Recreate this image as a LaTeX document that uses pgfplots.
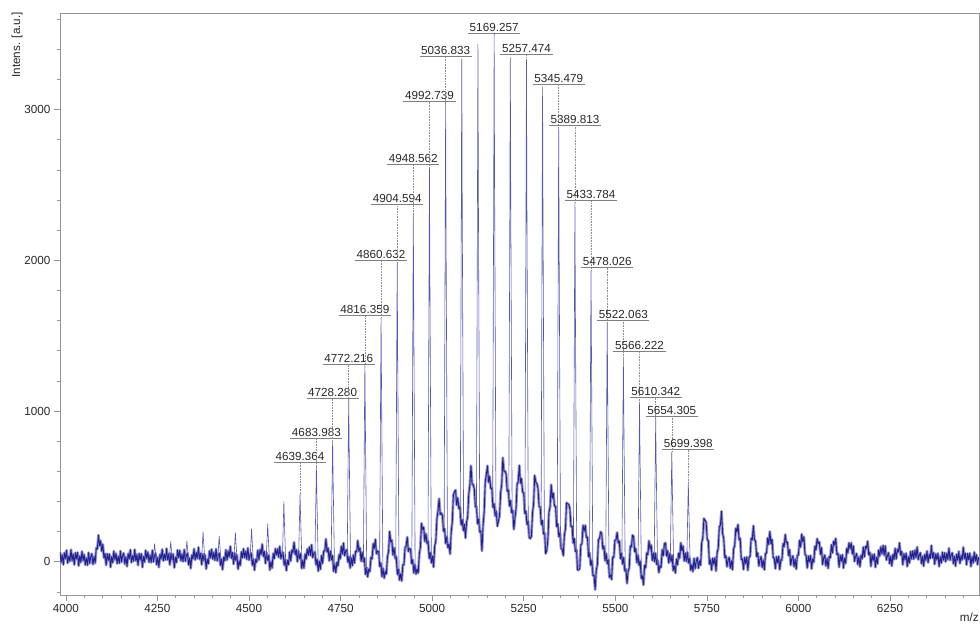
\documentclass[border=0pt]{standalone}
\usepackage{fontspec}
\setmainfont{Liberation Sans}
\usepackage{pgfplots}
\pgfplotsset{compat=1.18}

\definecolor{trace}{RGB}{34,34,140}
\definecolor{halo}{RGB}{150,150,212}
\definecolor{spike}{RGB}{88,88,180}
\definecolor{spine}{RGB}{150,150,150}
\definecolor{labtext}{RGB}{40,40,40}
\newcommand{\chartfont}{\fontsize{11.7bp}{13bp}\selectfont}

% peak annotation: #1 m/z, #2 peak top, #3 height of the underline, #4 text
\newcommand{\peaklabel}[4]{%
  \draw[leader] (axis cs:#1,#2) -- (axis cs:#1,#3);
  \node[pklab] (pk) at (axis cs:#1,#3) {#4};
  \draw[uline] ([xshift=-1bp]pk.south west) -- ([xshift=1bp]pk.south east);
}

\begin{document}
\begin{tikzpicture}[
  leader/.style={draw=black!45, densely dotted, line width=0.6bp},
  uline/.style={draw=black!50, line width=0.8bp},
  pklab/.style={anchor=south, inner xsep=0.5bp, inner ysep=1.6bp, font=\chartfont, text=labtext}
]
\begin{axis}[
  width=919bp, height=582bp, scale only axis,
  xmin=3984, xmax=6493, ymin=-221, ymax=3641,
  xtick={4000,4250,...,6250}, ytick={0,1000,2000,3000},
  minor xtick={4050,4100,...,6450}, minor ytick={-200,0,...,3600},
  tick align=outside, tick pos=left,
  major tick length=6bp, minor tick length=3bp,
  every tick/.style={spine, line width=0.6bp},
  every minor tick/.style={spine, line width=0.6bp},
  axis line style={spine, line width=0.7bp},
  tick label style={font=\chartfont, text=labtext},
  /pgf/number format/assume math mode=true,
  /pgf/number format/1000 sep={},
]

% full trace (baseline, adduct ripples and broad peaks), with a pale noise halo
\addplot[trace, line width=0.9bp, line join=round,
         preaction={draw=halo, line width=2.8bp, line join=round}] coordinates {
(3984,64)(3987,-5)(3990,46)(3993,-19)(3996,59)(3999,20)(4002,76)(4005,-9)(4008,36)(4011,3)
(4014,80)(4017,7)(4020,50)(4023,-20)(4026,59)(4029,18)(4032,61)(4035,-27)(4038,38)(4041,-4)
(4044,68)(4047,8)(4050,47)(4053,-21)(4056,24)(4059,-23)(4062,60)(4065,-11)(4068,33)(4071,53)
(4074,-18)(4077,33)(4080,-9)(4083,91)(4086,85)(4089,176)(4092,106)(4095,139)(4098,69)(4101,115)
(4104,25)(4107,53)(4110,-23)(4113,53)(4116,10)(4119,51)(4122,-36)(4125,33)(4128,-6)(4131,70)
(4134,14)(4137,54)(4140,-12)(4143,35)(4146,-10)(4149,71)(4152,-2)(4155,40)(4158,57)(4161,-16)
(4164,31)(4167,-31)(4170,53)(4173,19)(4176,79)(4179,-5)(4182,39)(4185,4)(4188,80)(4191,6)
(4194,47)(4197,-24)(4200,54)(4203,12)(4206,53)(4209,-37)(4212,34)(4215,-2)(4218,75)(4221,22)
(4224,64)(4227,-4)(4230,42)(4233,-5)(4236,75)(4239,-1)(4242,39)(4245,55)(4248,-20)(4251,27)
(4254,-37)(4257,49)(4260,18)(4263,82)(4266,6)(4269,49)(4272,12)(4275,87)(4278,12)(4281,52)
(4284,-21)(4287,55)(4290,12)(4293,51)(4296,-40)(4299,28)(4302,-4)(4305,77)(4308,27)(4311,75)
(4314,6)(4317,50)(4320,1)(4323,80)(4326,3)(4329,41)(4332,56)(4335,-21)(4338,24)(4341,-44)
(4344,45)(4347,18)(4350,85)(4353,12)(4356,60)(4359,22)(4362,95)(4365,17)(4368,54)(4371,-20)
(4374,53)(4377,8)(4380,45)(4383,-48)(4386,15)(4389,-14)(4392,71)(4395,26)(4398,83)(4401,17)
(4404,60)(4407,9)(4410,85)(4413,6)(4416,43)(4419,55)(4422,-24)(4425,18)(4428,-52)(4431,30)
(4434,7)(4437,79)(4440,11)(4443,71)(4446,31)(4449,102)(4452,23)(4455,60)(4458,-16)(4461,56)
(4464,9)(4467,45)(4470,-50)(4473,5)(4476,-25)(4479,65)(4482,25)(4485,85)(4488,28)(4491,69)
(4494,16)(4497,91)(4500,11)(4503,46)(4506,57)(4509,-24)(4512,17)(4515,-56)(4518,14)(4521,-3)
(4524,75)(4527,12)(4530,80)(4533,48)(4536,116)(4539,35)(4542,68)(4545,-11)(4548,59)(4551,9)
(4554,42)(4557,-55)(4560,0)(4563,-42)(4566,54)(4569,20)(4572,86)(4575,45)(4578,85)(4581,30)
(4584,102)(4587,20)(4590,52)(4593,61)(4596,-22)(4599,16)(4602,-59)(4605,8)(4608,-19)(4611,64)
(4614,5)(4617,78)(4620,61)(4623,129)(4626,47)(4629,80)(4632,1)(4635,70)(4638,20)(4641,53)
(4644,-45)(4647,9)(4650,-43)(4653,50)(4656,17)(4659,84)(4662,44)(4665,98)(4668,41)(4671,112)
(4674,27)(4677,57)(4680,63)(4683,-21)(4686,15)(4689,-63)(4692,2)(4695,-50)(4698,41)(4701,-10)
(4704,71)(4707,72)(4710,151)(4713,64)(4716,91)(4719,6)(4722,69)(4725,13)(4728,40)(4731,-64)
(4734,-15)(4737,-73)(4740,-4)(4743,-28)(4746,48)(4749,18)(4752,102)(4755,51)(4758,123)(4761,40)
(4764,71)(4767,79)(4770,-4)(4773,34)(4776,-42)(4779,25)(4782,-26)(4785,45)(4788,-9)(4791,68)
(4794,66)(4797,140)(4800,69)(4803,92)(4806,3)(4809,62)(4812,1)(4815,24)(4818,-84)(4821,-39)
(4824,-101)(4827,-49)(4830,-65)(4833,30)(4836,18)(4839,120)(4842,88)(4845,148)(4848,52)(4851,70)
(4854,65)(4857,-32)(4860,-8)(4863,-99)(4866,-45)(4869,-109)(4872,-65)(4875,-82)(4878,32)(4881,67)
(4884,200)(4887,131)(4890,143)(4893,44)(4896,92)(4899,22)(4902,34)(4905,-84)(4908,-50)(4911,-122)
(4914,-81)(4917,-128)(4920,-20)(4923,-21)(4926,94)(4929,103)(4932,163)(4935,68)(4938,87)(4941,83)
(4944,-12)(4947,13)(4950,-75)(4953,-20)(4956,-82)(4959,-49)(4962,-75)(4965,51)(4968,97)(4971,255)
(4974,213)(4977,229)(4980,134)(4983,186)(4986,120)(4989,136)(4992,22)(4995,60)(4998,-8)(5001,37)
(5004,-36)(5007,104)(5010,137)(5013,284)(5016,338)(5019,418)(5022,313)(5025,323)(5028,309)(5031,203)
(5034,219)(5037,121)(5040,165)(5043,93)(5046,116)(5049,51)(5052,197)(5055,265)(5058,443)(5061,463)
(5064,475)(5067,375)(5070,423)(5073,352)(5076,364)(5079,245)(5082,279)(5085,207)(5088,248)(5091,158)
(5094,262)(5097,298)(5100,449)(5103,507)(5106,637)(5109,517)(5112,512)(5115,484)(5118,364)(5121,365)
(5124,252)(5127,282)(5130,196)(5133,204)(5136,71)(5139,239)(5142,328)(5145,529)(5148,579)(5151,636)
(5154,527)(5157,566)(5160,486)(5163,489)(5166,360)(5169,385)(5172,303)(5175,335)(5178,235)(5181,270)
(5184,307)(5187,457)(5190,514)(5193,690)(5196,600)(5199,602)(5202,580)(5205,467)(5208,475)(5211,369)
(5214,406)(5217,326)(5220,341)(5223,215)(5226,290)(5229,347)(5232,515)(5235,533)(5238,638)(5241,521)
(5244,551)(5247,462)(5250,457)(5253,320)(5256,336)(5259,246)(5262,269)(5265,161)(5268,154)(5271,169)
(5274,323)(5277,384)(5280,572)(5283,527)(5286,519)(5289,487)(5292,365)(5295,363)(5298,247)(5301,274)
(5304,184)(5307,190)(5310,54)(5313,75)(5316,147)(5319,330)(5322,363)(5325,511)(5328,421)(5331,455)
(5334,369)(5337,367)(5340,233)(5343,253)(5346,165)(5349,192)(5352,87)(5355,84)(5358,40)(5361,177)
(5364,220)(5367,391)(5370,384)(5373,380)(5376,352)(5379,233)(5382,235)(5385,123)(5388,154)(5391,68)
(5394,77)(5397,-55)(5400,-55)(5403,-43)(5406,113)(5409,119)(5412,241)(5415,203)(5418,241)(5421,161)
(5424,163)(5427,34)(5430,59)(5433,-24)(5436,7)(5439,-92)(5442,-91)(5445,-185)(5448,-58)(5451,-20)
(5454,145)(5457,155)(5460,198)(5463,186)(5466,84)(5469,103)(5472,7)(5475,55)(5478,-14)(5481,12)
(5484,-104)(5487,-88)(5490,-118)(5493,31)(5496,29)(5499,143)(5502,144)(5505,194)(5508,124)(5511,138)
(5514,20)(5517,56)(5520,-16)(5523,27)(5526,-62)(5529,-49)(5532,-144)(5535,-64)(5538,-43)(5541,104)
(5544,97)(5547,176)(5550,167)(5553,66)(5556,87)(5559,-7)(5562,43)(5565,-25)(5568,3)(5571,-111)
(5574,-93)(5577,-154)(5580,-25)(5583,-40)(5586,59)(5589,46)(5592,139)(5595,83)(5598,111)(5601,8)
(5604,57)(5607,0)(5610,56)(5613,-18)(5616,8)(5619,-72)(5622,-27)(5625,-38)(5628,79)(5631,40)
(5634,117)(5637,125)(5640,38)(5643,72)(5646,-8)(5649,55)(5652,1)(5655,42)(5658,-58)(5661,-27)
(5664,-75)(5667,17)(5670,-20)(5673,57)(5676,23)(5679,125)(5682,73)(5685,104)(5688,4)(5691,57)
(5694,2)(5697,62)(5700,-9)(5703,21)(5706,-57)(5709,-20)(5712,-66)(5715,22)(5718,-45)(5721,3)
(5724,27)(5727,-43)(5730,6)(5733,-23)(5736,127)(5739,159)(5742,287)(5745,274)(5748,262)(5751,145)
(5754,140)(5757,-16)(5760,13)(5763,-56)(5766,23)(5769,-17)(5772,26)(5775,-62)(5778,60)(5781,88)
(5784,231)(5787,243)(5790,335)(5793,187)(5796,154)(5799,27)(5802,39)(5805,-33)(5808,10)(5811,29)
(5814,-43)(5817,6)(5820,-53)(5823,85)(5826,106)(5829,222)(5832,197)(5835,247)(5838,145)(5841,155)
(5844,14)(5847,18)(5850,-51)(5853,28)(5856,-12)(5859,31)(5862,-57)(5865,28)(5868,35)(5871,156)
(5874,146)(5877,238)(5880,144)(5883,136)(5886,34)(5889,59)(5892,-28)(5895,15)(5898,34)(5901,-38)
(5904,11)(5907,-54)(5910,54)(5913,58)(5916,157)(5919,115)(5922,200)(5925,119)(5928,148)(5931,27)
(5934,23)(5937,-46)(5940,33)(5943,-7)(5946,36)(5949,-52)(5952,13)(5955,10)(5958,120)(5961,100)
(5964,180)(5967,126)(5970,130)(5973,41)(5976,79)(5979,-23)(5982,20)(5985,39)(5988,-33)(5991,16)
(5994,-49)(5997,43)(6000,44)(6003,141)(6006,97)(6009,183)(6012,133)(6015,165)(6018,47)(6021,43)
(6024,-41)(6027,38)(6030,-2)(6033,41)(6036,-47)(6039,18)(6042,-2)(6045,103)(6048,78)(6051,153)
(6054,121)(6057,131)(6060,49)(6063,93)(6066,-18)(6069,25)(6072,44)(6075,-28)(6078,21)(6081,-44)
(6084,34)(6087,26)(6090,112)(6093,58)(6096,135)(6099,111)(6102,154)(6105,48)(6108,56)(6111,-36)
(6114,43)(6117,3)(6120,46)(6123,-42)(6126,23)(6129,-10)(6132,89)(6135,57)(6138,125)(6141,87)
(6144,125)(6147,51)(6150,104)(6153,2)(6156,35)(6159,54)(6162,-18)(6165,31)(6168,-34)(6171,44)
(6174,19)(6177,97)(6180,33)(6183,101)(6186,89)(6189,135)(6192,45)(6195,63)(6198,-31)(6201,48)
(6204,8)(6207,51)(6210,-37)(6213,28)(6216,-14)(6219,77)(6222,37)(6225,99)(6228,53)(6231,108)
(6234,43)(6237,105)(6240,11)(6243,40)(6246,59)(6249,-13)(6252,36)(6255,-29)(6258,49)(6261,15)
(6264,88)(6267,19)(6270,81)(6273,64)(6276,125)(6279,44)(6282,68)(6285,-20)(6288,53)(6291,13)
(6294,56)(6297,-32)(6300,33)(6303,-9)(6306,67)(6309,18)(6312,71)(6315,17)(6318,76)(6321,28)
(6324,98)(6327,14)(6330,44)(6333,59)(6336,-13)(6339,36)(6342,-29)(6345,49)(6348,10)(6351,71)
(6354,-6)(6357,47)(6360,22)(6363,107)(6366,26)(6369,60)(6372,-17)(6375,53)(6378,13)(6381,56)
(6384,-32)(6387,33)(6390,-9)(6393,63)(6396,10)(6399,59)(6402,0)(6405,56)(6408,14)(6411,90)
(6414,10)(6417,45)(6420,59)(6423,-13)(6426,36)(6429,-29)(6432,49)(6435,10)(6438,68)(6441,-12)
(6444,40)(6447,12)(6450,95)(6453,21)(6456,56)(6459,-20)(6462,54)(6465,13)(6468,56)(6471,-32)
(6474,33)(6477,-9)(6480,63)(6483,4)(6486,46)(6489,-19)(6492,30)
};

% narrow main charge-state peaks
\addplot[spike, line width=0.6bp, unbounded coords=jump] coordinates {
(4238.2,24)(4241,86)(4242.2,120)(4243.4,86)(4247.2,16)(4247.2,nan)
(4282.3,27)(4285.1,97)(4286.3,135)(4287.5,97)(4291.3,17)(4291.3,nan)
(4326.4,27)(4329.2,101)(4330.4,140)(4331.6,101)(4335.4,14)(4335.4,nan)
(4370.6,26)(4373.4,144)(4374.6,200)(4375.8,144)(4379.6,10)(4379.6,nan)
(4414.7,26)(4417.5,124)(4418.7,172)(4419.9,124)(4423.7,7)(4423.7,nan)
(4458.8,26)(4461.6,140)(4462.8,195)(4464,140)(4467.8,4)(4467.8,nan)
(4503,26)(4505.8,158)(4507,219)(4508.2,158)(4512,1)(4512,nan)
(4547.1,28)(4549.9,181)(4551.1,252)(4552.3,181)(4556.1,-1)(4556.1,nan)
(4591.2,28)(4594,288)(4595.2,400)(4596.4,288)(4600.2,-4)(4600.2,nan)
(4635.4,35)(4638.2,323)(4639.364,449)(4640.6,323)(4644.4,5)(4644.4,nan)
(4680,25)(4682.8,454)(4683.983,630)(4685.2,454)(4689,-14)(4689,nan)
(4724.3,24)(4727.1,578)(4728.28,803)(4729.5,578)(4733.3,-24)(4733.3,nan)
(4768.2,35)(4771,778)(4772.216,1080)(4773.4,778)(4777.2,3)(4777.2,nan)
(4812.4,6)(4815.2,948)(4816.359,1316)(4817.6,948)(4821.4,-55)(4821.4,nan)
(4856.6,2)(4859.4,1167)(4860.632,1621)(4861.8,1167)(4865.6,-72)(4865.6,nan)
(4900.6,11)(4903.4,1422)(4904.594,1975)(4905.8,1422)(4909.6,-80)(4909.6,nan)
(4944.6,15)(4947.4,1656)(4948.562,2300)(4949.8,1656)(4953.6,-54)(4953.6,nan)
(4988.7,102)(4991.5,1876)(4992.739,2606)(4993.9,1876)(4997.7,22)(4997.7,nan)
(5032.8,216)(5035.6,2187)(5036.833,3037)(5038,2187)(5041.8,116)(5041.8,nan)
(5076.9,319)(5079.7,2402)(5080.9,3336)(5082.1,2402)(5085.9,226)(5085.9,nan)
(5121,348)(5123.8,2473)(5125,3435)(5126.2,2473)(5130,204)(5130,nan)
(5165.3,422)(5168.1,2516)(5169.257,3495)(5170.5,2516)(5174.3,300)(5174.3,nan)
(5209.4,439)(5212.2,2409)(5213.4,3346)(5214.6,2409)(5218.4,316)(5218.4,nan)
(5253.5,362)(5256.3,2401)(5257.474,3335)(5258.7,2401)(5262.5,216)(5262.5,nan)
(5297.5,302)(5300.3,2269)(5301.5,3152)(5302.7,2269)(5306.5,150)(5306.5,nan)
(5341.5,261)(5344.3,2075)(5345.479,2882)(5346.7,2075)(5350.5,124)(5350.5,nan)
(5385.8,160)(5388.6,1716)(5389.813,2384)(5391,1716)(5394.8,18)(5394.8,nan)
(5429.8,47)(5432.6,1390)(5433.784,1931)(5435,1390)(5438.8,-75)(5438.8,nan)
(5474,36)(5476.8,1143)(5478.026,1588)(5479.2,1143)(5483,-55)(5483,nan)
(5518.1,31)(5520.9,976)(5522.063,1356)(5523.3,976)(5527.1,-57)(5527.1,nan)
(5562.2,12)(5565,753)(5566.222,1046)(5567.4,753)(5571.2,-74)(5571.2,nan)
(5606.3,32)(5609.1,682)(5610.342,947)(5611.5,682)(5615.3,-15)(5615.3,nan)
(5650.3,19)(5653.1,526)(5654.305,730)(5655.5,526)(5659.3,-26)(5659.3,nan)
(5695.4,27)(5698.2,379)(5699.398,526)(5700.6,379)(5704.4,-10)
};

% peak annotations
\peaklabel{4639.364}{449}{657}{4639.364}
\peaklabel{4683.983}{630}{819}{4683.983}
\peaklabel{4728.280}{803}{1084}{4728.280}
\peaklabel{4772.216}{1080}{1310}{4772.216}
\peaklabel{4816.359}{1316}{1637}{4816.359}
\peaklabel{4860.632}{1621}{2002}{4860.632}
\peaklabel{4904.594}{1975}{2374}{4904.594}
\peaklabel{4948.562}{2300}{2634}{4948.562}
\peaklabel{4992.739}{2606}{3052}{4992.739}
\peaklabel{5036.833}{3037}{3356}{5036.833}
\peaklabel{5169.257}{3495}{3505}{5169.257}
\peaklabel{5257.474}{3335}{3369}{5257.474}
\peaklabel{5345.479}{2882}{3170}{5345.479}
\peaklabel{5389.813}{2384}{2898}{5389.813}
\peaklabel{5433.784}{1931}{2397}{5433.784}
\peaklabel{5478.026}{1588}{1954}{5478.026}
\peaklabel{5522.063}{1356}{1604}{5522.063}
\peaklabel{5566.222}{1046}{1393}{5566.222}
\peaklabel{5610.342}{947}{1091}{5610.342}
\peaklabel{5654.305}{730}{967}{5654.305}
\peaklabel{5699.398}{526}{746}{5699.398}
\end{axis}

% axis titles
\node[anchor=east, rotate=90, font=\chartfont, text=labtext, inner sep=0pt]
  at ([xshift=-43bp,yshift=1bp]current axis.north west) {Intens. [a.u.]};
\node[anchor=base east, font=\chartfont, text=labtext, inner sep=0pt]
  at ([yshift=-26bp]current axis.south east) {m/z};

\pgfresetboundingbox
\path ([shift={(-60bp,-29bp)}]current axis.south west) rectangle ([shift={(1bp,13bp)}]current axis.north east);
\end{tikzpicture}
\end{document}
